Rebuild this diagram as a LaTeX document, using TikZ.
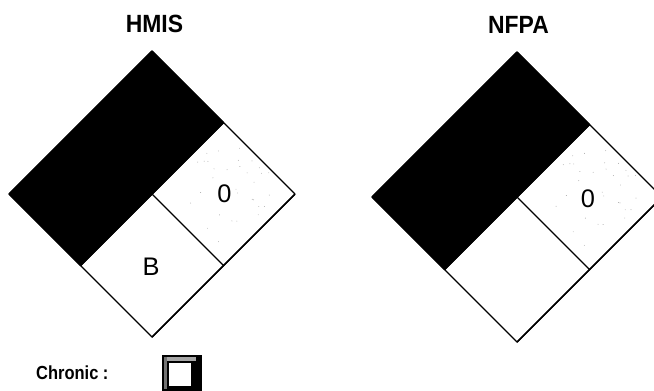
\documentclass[tikz,border=0pt]{standalone}
\usepackage{fontspec}
\setmainfont{Liberation Sans}
\newfontfamily\titlefont{Liberation Sans}[FakeStretch=0.92]
\newfontfamily\chronfont{Liberation Sans}[FakeStretch=0.87]
\tikzset{
  edge/.style={line width=1.4bp, line join=round},
  blackpart/.style={fill=black, draw=black, line width=1.4bp, line join=round},
  title/.style={inner sep=0pt, anchor=base, font=\titlefont\bfseries\fontsize{25}{30}\selectfont},
  rating/.style={inner sep=0pt, anchor=center, font=\fontsize{25.5}{28}\selectfont},
  speck/.style={fill=black!35},
}
\newcommand{\hazdiamond}[1]{%
  \fill[white] (0,-#1) -- (#1,0) -- (0,#1) -- (-#1,0) -- cycle;
  \begin{scope}
    \clip (#1/2,-#1/2) -- (#1,0) -- (#1/2,#1/2) -- (0,0) -- cycle;
    \pgfmathsetseed{11}
    \foreach \i in {1,...,32}{%
      \pgfmathsetmacro\uu{0.95*rand}%
      \pgfmathsetmacro\vv{0.95*rand}%
      \fill[speck] ({#1/2+#1/4*(\uu+\vv)},{#1/4*(\vv-\uu)}) circle (0.45);
    }
  \end{scope}
  \filldraw[blackpart] (0,-#1) -- (#1/2,-#1/2) -- (0,0) -- (-#1/2,#1/2) -- (-#1,0) -- cycle;
  \draw[edge] (0,-#1) -- (#1,0) -- (0,#1) -- (-#1,0) -- cycle;
  \draw[edge] (#1/2,-#1/2) -- (0,0) -- (#1/2,#1/2) -- (#1,0);
  \draw[edge] (-#1/2,#1/2) -- (0,0);
  \draw[edge] (#1/2,#1/2) -- (0,#1);
}
\begin{document}
\begin{tikzpicture}[x=1bp,y=-1bp]
\useasboundingbox (0,0) rectangle (654,390);
\fill[white] (0,0) rectangle (654,390);
\clip (0,0) rectangle (654,390);

% HMIS
\node[title] (hmis) at (154.5,32) {HMIS};
\begin{scope}[shift={(152,194)}]
  \hazdiamond{143}
  \node[rating] (hmisright) at (72.5,0) {0};
  \node[rating] (hmisbottom) at (-1,72.5) {B};
\end{scope}

% NFPA
\node[title] (nfpa) at (518.5,33) {NFPA};
\begin{scope}[shift={(517,197)}]
  \hazdiamond{145}
  \node[rating] (nfparight) at (71,1.5) {0};
\end{scope}

% Chronic
\node[inner sep=0pt, anchor=base west, font=\chronfont\bfseries\fontsize{19}{22}\selectfont] (chronic) at (36,379) {Chronic :};
\fill[black] (162,355) rectangle (202,394);
\fill[black!35] (163.5,356.5) rectangle (196,361);
\fill[black!55] (163.5,356.5) rectangle (167,389);
\filldraw[fill=white, draw=black, line width=1.5bp] (168,362) rectangle (192,387);
\end{tikzpicture}
\end{document}
